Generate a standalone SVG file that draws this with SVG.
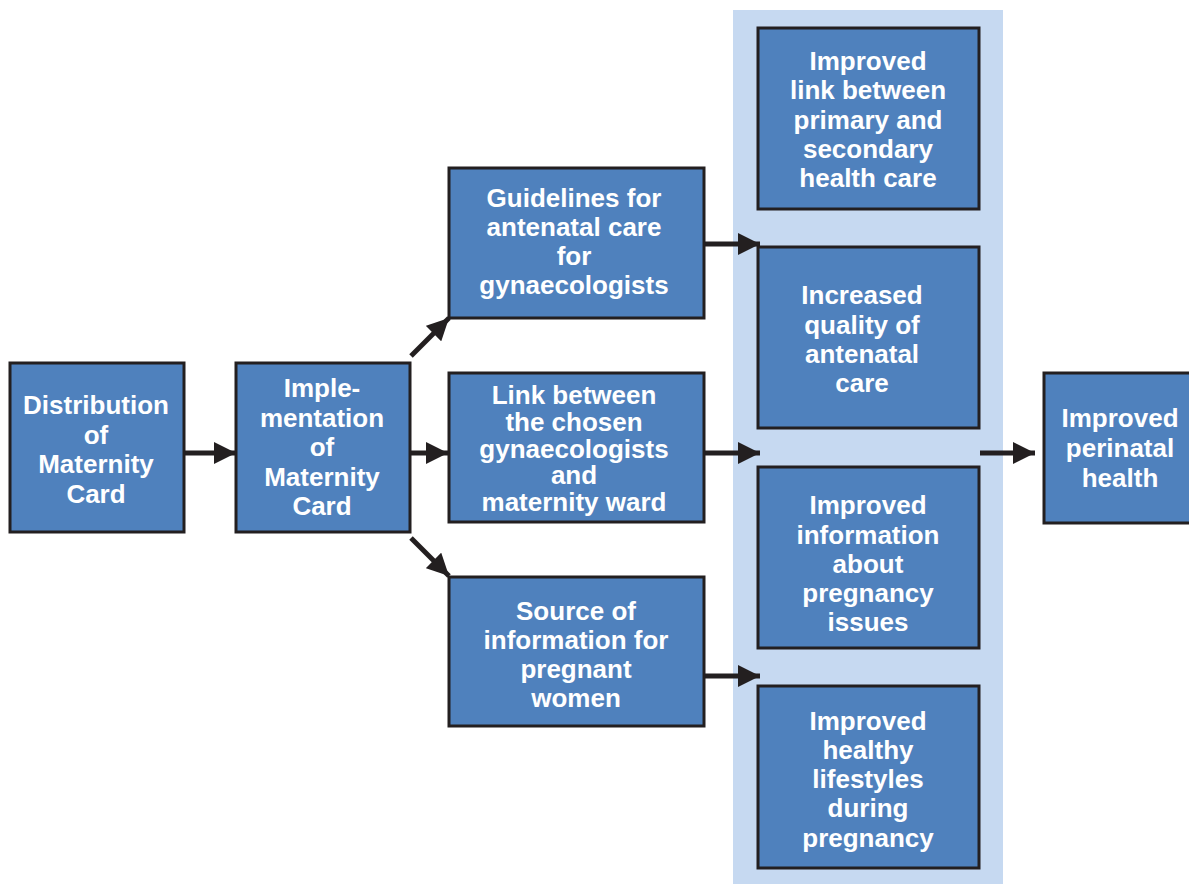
<svg xmlns="http://www.w3.org/2000/svg" width="1189" height="884" viewBox="0 0 1189 884">
  <style>
    .box { fill: #4f81bd; stroke: #231f20; stroke-width: 3; }
    .band { fill: #c6d9f1; }
    .lbl { font-family: "Liberation Sans", Arial, sans-serif; font-weight: bold; font-size: 26px; fill: #ffffff; text-anchor: middle; }
    .conn { stroke: #231f20; stroke-width: 5; fill: none; marker-end: url(#head); }
  </style>
  <defs>
    <marker id="head" markerUnits="userSpaceOnUse" markerWidth="24" markerHeight="22" refX="22" refY="11" orient="auto">
      <path d="M0,0 L22,11 L0,22 Z" fill="#231f20"/>
    </marker>
  </defs>

  <rect width="1189" height="884" fill="#ffffff"/>

  <!-- outcomes band -->
  <rect id="outcome-band" class="band" x="733" y="10" width="270" height="874"/>

  <g id="connectors">
    <line class="conn" x1="180" y1="453" x2="236" y2="453"/>
    <line class="conn" x1="402" y1="453" x2="448" y2="453"/>
    <line class="conn" x1="411" y1="356" x2="449" y2="318"/>
    <line class="conn" x1="411" y1="538" x2="449" y2="576"/>
    <line class="conn" x1="704" y1="244" x2="760" y2="244"/>
    <line class="conn" x1="704" y1="453" x2="760" y2="453"/>
    <line class="conn" x1="704" y1="676" x2="760" y2="676"/>
    <line class="conn" x1="980" y1="453" x2="1035" y2="453"/>
  </g>

  <g id="distribution">
    <rect class="box" x="10" y="363" width="174" height="169"/>
    <text class="lbl"><tspan x="96" y="414">Distribution</tspan><tspan x="96" y="443.5">of</tspan><tspan x="96" y="473">Maternity</tspan><tspan x="96" y="502.5">Card</tspan></text>
  </g>

  <g id="implementation">
    <rect class="box" x="236" y="363" width="174" height="169"/>
    <text class="lbl"><tspan x="322" y="397">Imple-</tspan><tspan x="322" y="426.5">mentation</tspan><tspan x="322" y="456">of</tspan><tspan x="322" y="485.5">Maternity</tspan><tspan x="322" y="515">Card</tspan></text>
  </g>

  <g id="guidelines">
    <rect class="box" x="449" y="168" width="255" height="150"/>
    <text class="lbl"><tspan x="574" y="207">Guidelines for</tspan><tspan x="574" y="236">antenatal care</tspan><tspan x="574" y="265">for</tspan><tspan x="574" y="294">gynaecologists</tspan></text>
  </g>

  <g id="link">
    <rect class="box" x="449" y="373" width="255" height="149"/>
    <text class="lbl"><tspan x="574" y="404">Link between</tspan><tspan x="574" y="431">the chosen</tspan><tspan x="574" y="457.5">gynaecologists</tspan><tspan x="574" y="484">and</tspan><tspan x="574" y="511">maternity ward</tspan></text>
  </g>

  <g id="source">
    <rect class="box" x="449" y="577" width="255" height="149"/>
    <text class="lbl"><tspan x="576" y="620">Source of</tspan><tspan x="576" y="649">information for</tspan><tspan x="576" y="678">pregnant</tspan><tspan x="576" y="707">women</tspan></text>
  </g>

  <g id="improved-link">
    <rect class="box" x="758" y="28" width="221" height="181"/>
    <text class="lbl"><tspan x="868" y="70">Improved</tspan><tspan x="868" y="99">link between</tspan><tspan x="868" y="128.5">primary and</tspan><tspan x="868" y="157.5">secondary</tspan><tspan x="868" y="186.5">health care</tspan></text>
  </g>

  <g id="quality">
    <rect class="box" x="758" y="247" width="221" height="181"/>
    <text class="lbl"><tspan x="862" y="304">Increased</tspan><tspan x="862" y="333.5">quality of</tspan><tspan x="862" y="363">antenatal</tspan><tspan x="862" y="392">care</tspan></text>
  </g>

  <g id="information">
    <rect class="box" x="758" y="467" width="221" height="181"/>
    <text class="lbl"><tspan x="868" y="514">Improved</tspan><tspan x="868" y="543.5">information</tspan><tspan x="868" y="573">about</tspan><tspan x="868" y="602">pregnancy</tspan><tspan x="868" y="631">issues</tspan></text>
  </g>

  <g id="lifestyles">
    <rect class="box" x="758" y="686" width="221" height="182"/>
    <text class="lbl"><tspan x="868" y="729.5">Improved</tspan><tspan x="868" y="759">healthy</tspan><tspan x="868" y="788">lifestyles</tspan><tspan x="868" y="817">during</tspan><tspan x="868" y="846.5">pregnancy</tspan></text>
  </g>

  <g id="perinatal">
    <rect class="box" x="1044" y="373" width="160" height="150"/>
    <text class="lbl"><tspan x="1120" y="427">Improved</tspan><tspan x="1120" y="457">perinatal</tspan><tspan x="1120" y="487">health</tspan></text>
  </g>
</svg>
